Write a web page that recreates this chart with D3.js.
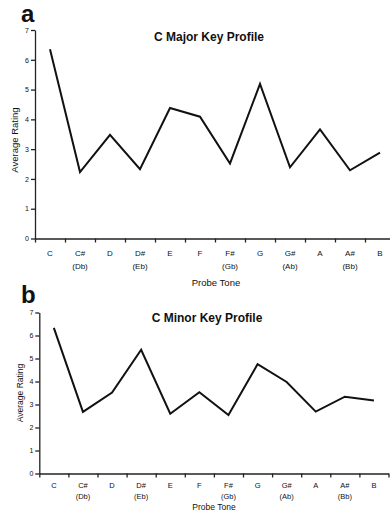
<!DOCTYPE html>
<html lang="en">
<head>
    <meta charset="UTF-8">
    <title>key-profiles</title>
    <script src="https://cdn.jsdelivr.net/npm/d3@7"></script>
    <style>
        body{
            margin: 0;
            background: #fff;
        }
        svg text{
            font-family: "Liberation Sans", Arial, sans-serif;
            fill: #111;
        }
        .axis path, .axis line{
            stroke: #222;
            stroke-width: 1.3;
        }
    </style>
</head>
<body>
<svg class="graph"></svg>
</body>
<script>
    var width = 390;
    var height = 514;

    // probe tones and tick labels
    var tones = ['C', 'C#', 'D', 'D#', 'E', 'F', 'F#', 'G', 'G#', 'A', 'A#', 'B'];
    var enharmonic = ['', '(Db)', '', '(Eb)', '', '', '(Gb)', '', '(Ab)', '', '(Bb)', ''];
    var yTicks = [0, 1, 2, 3, 4, 5, 6, 7];

    // average ratings
    var majorRatings = [6.35, 2.23, 3.48, 2.33, 4.38, 4.09, 2.52, 5.19, 2.39, 3.66, 2.29, 2.88];
    var minorRatings = [6.33, 2.68, 3.52, 5.38, 2.60, 3.53, 2.54, 4.75, 3.98, 2.69, 3.34, 3.17];

    var svg = d3.select('.graph')
        .attr('width', width)
        .attr('height', height);

    // one panel per key
    function drawPanel(p) {
        var g = svg.append('g');

        var x = d3.scaleBand().domain(tones).range([p.x0, p.x1]);
        var xEdge = d3.scaleLinear().domain([0, 12]).range([p.x0, p.x1]);
        var y = d3.scaleLinear().domain([0, 7]).range([p.y0, p.y7]);

        // x axis, ticks at the band edges
        g.append('g')
            .attr('class', 'axis')
            .attr('transform', 'translate(0,' + p.y0 + ')')
            .call(d3.axisBottom(xEdge).ticks(12).tickSize(4).tickSizeOuter(0).tickFormat(''));

        // y axis
        var ya = g.append('g')
            .attr('class', 'axis')
            .attr('transform', 'translate(' + p.x0 + ',0)')
            .call(d3.axisLeft(y).tickValues(yTicks).tickSize(4).tickSizeOuter(0).tickFormat(d3.format('d')));
        ya.selectAll('text')
            .attr('x', -6)
            .style('font-size', '7px');

        // tone labels
        var lab = g.append('g').selectAll('g')
            .data(tones)
            .enter()
            .append('g');
        lab.append('text')
            .attr('x', function (d) { return x(d) + x.bandwidth() / 2; })
            .attr('y', p.lab1)
            .attr('text-anchor', 'middle')
            .style('font-size', p.labSize)
            .text(function (d) { return d; });
        lab.append('text')
            .attr('x', function (d) { return x(d) + x.bandwidth() / 2; })
            .attr('y', p.lab2)
            .attr('text-anchor', 'middle')
            .style('font-size', p.labSize)
            .text(function (d, i) { return enharmonic[i]; });

        // profile line
        var line = d3.line()
            .x(function (d, i) { return x(tones[i]) + x.bandwidth() / 2; })
            .y(function (d) { return y(d); });
        g.append('path')
            .datum(p.values)
            .attr('d', line)
            .attr('fill', 'none')
            .attr('stroke', '#111')
            .attr('stroke-width', 2)
            .attr('stroke-linejoin', 'miter');

        // titles
        g.append('text')
            .attr('x', p.titleX)
            .attr('y', p.titleY)
            .attr('text-anchor', 'middle')
            .style('font-size', '12px')
            .style('font-weight', 'bold')
            .text(p.title);

        g.append('text')
            .attr('x', p.xLabX)
            .attr('y', p.xLabY)
            .attr('text-anchor', 'middle')
            .style('font-size', p.axSize)
            .text('Probe Tone');

        g.append('text')
            .attr('transform', 'translate(' + p.yLabX + ',' + p.yLabY + ') rotate(-90)')
            .attr('text-anchor', 'middle')
            .attr('dy', '0.35em')
            .style('font-size', p.axSize)
            .text('Average Rating');

        g.append('text')
            .attr('x', p.letterX)
            .attr('y', p.letterY)
            .style('font-size', '24px')
            .style('font-weight', 'bold')
            .text(p.letter);
    }

    drawPanel({
        values: majorRatings, title: 'C Major Key Profile', letter: 'a',
        x0: 35, x1: 395, y0: 238.5, y7: 30,
        lab1: 256, lab2: 269, labSize: '8px',
        titleX: 209, titleY: 41,
        xLabX: 216, xLabY: 286, yLabX: 15, yLabY: 140, axSize: '9.5px',
        letterX: 21, letterY: 22
    });

    drawPanel({
        values: minorRatings, title: 'C Minor Key Profile', letter: 'b',
        x0: 39.3, x1: 388.5, y0: 473.5, y7: 312.5,
        lab1: 488, lab2: 499, labSize: '7.5px',
        titleX: 207, titleY: 322,
        xLabX: 214, xLabY: 510, yLabX: 20, yLabY: 393, axSize: '8.5px',
        letterX: 21, letterY: 303
    });
</script>
</html>
